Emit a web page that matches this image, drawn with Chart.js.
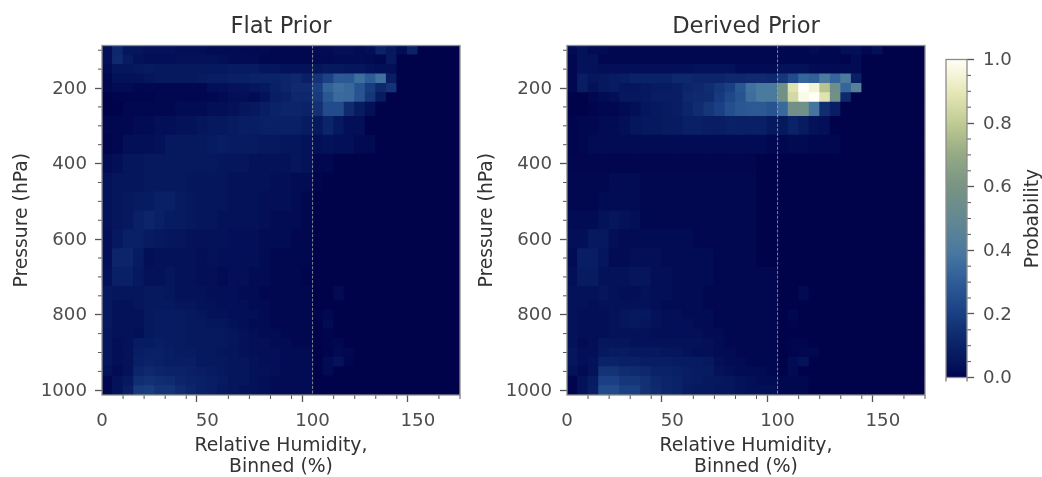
<!DOCTYPE html>
<html><head><meta charset="utf-8">
<style>html,body{margin:0;padding:0;background:#fff;width:1042px;height:477px;overflow:hidden}
canvas{position:absolute;top:0}</style>
<script src="https://cdn.jsdelivr.net/npm/chart.js@4"></script></head>
<body>
<canvas id="c1" style="left:0" ></canvas>
<canvas id="c2" style="left:465px"></canvas>
<canvas id="c3" style="left:930px"></canvas>
<script>
const rhEdges = [0,5,10,15,20,25,30,35,40,45,50,55,60,65,70,75,80,85,90,95,100,105,110,115,120,125,130,135,140,145,150,155,160,165,170];
const pressureEdges = [87.5,112.5,137.5,162.5,187.5,212.5,237.5,275,325,375,425,475,525,575,625,675,725,762.5,787.5,812.5,837.5,862.5,887.5,912.5,937.5,962.5,987.5,1012.5];
const xTicks = [0,10,20,30,40,50,60,70,80,90,100,110,120,130,140,150,160,170];
const yTicks = [100,150,200,250,300,350,400,450,500,550,600,650,700,750,800,850,900,950,1000];
const barTicks = [0,.05,.1,.15,.2,.25,.3,.35,.4,.45,.5,.55,.6,.65,.7,.75,.8,.85,.9,.95,1];
const refLine = 100;
// probability x 100, one row per pressure level, rows end where the values reach zero
const flatPrior = [
[3,12,5,5,4,4,4,3,3,3,2,2,2,1.5,1.5,1.5,1,1,1,1,2,2,3,3,2,3,10,6,2,10],
[3,13,7,4,3,3,3,4,4,4,4,3,2,2,2,1,1,1,1,1,1.5,1.5,2,2,2,1.5,1,6],
[2,5,5,6,7,6,6,6,6,6,6,6,7,7,7,5,5,4,4,4,5,6,6,5,5,4,3,3],
[1,4,4,4,5,6,6,6,6,7,8,8,9,9,10,10,10,11,12,9,16,21,29,29,36,30,37,8],
[1,2,2,1,1,1,1,1,1,1,3,3,4,4,5,6,9,11,13,13,20,32,36,34,27,19,12,16],
[0,0.5,0.5,0.5,0.5,1,1,1,1,1,1,2,3,3,2,4,8,9,12,12,18,28,35,34,27,17,7],
[0,0,1,1,1,1,1,2,2,2,3,3,4,5,6,8,10,11,11,10,15,24,24,13,7,3],
[1,1,1,2,2,3,3,4,4,5,6,6,7,8,8,9,9,9,9,7,6,11,6,3,3],
[0.5,1,3,3,3,4,6,6,6,6,7,8,7,7,7,6,6,5,5,4,3,4,3,3,1.5,1.5],
[2,3,5,5,6,6,6,6,6,6,6,5,5,5,4,4,4,4,5,4,1,1],
[4,5,5,5,6,6,6,6,5,5,5,5,4,4,4,4,3,3,2,2,0.5],
[4,5,6,7,7,9,9,7,6,5,5,5,4,4,4,3,3,3,2,1],
[4,5,6,9,11,9,7,7,6,5,5,4,4,4,4,3,2,2,2,1],
[3,6,9,9,7,6,5,5,4,4,4,4,3,3,3,2,2,2,1,1],
[3,11,11,7,3,4,4,4,4,3,4,3,3,3,3,2,1,1,1,1],
[4,9,9,6,4,4,5,4,4,3,3,2,3,3,2,2,1,1,1,0.5],
[6,5,5,5,6,6,5,4,4,4,3,3,3,2,2,1,1,1,1,1,0,0,1.5],
[6,4,4,5,6,6,6,5,5,4,4,3,3,3,2,2,1,1,1,1],
[6,4,4,4,6,7,7,7,6,5,4,4,3,3,3,2,1,1,1,1,0.5,1],
[6,4,4,4,6,7,7,7,6,6,5,5,4,3,2,2,1,1,1,1,0,1.5],
[5,4,4,3,6,7,7,7,6,6,6,6,5,4,3,2,2,1,1,1,0,0.5],
[5,3,4,7,7,8,7,7,6,6,6,6,5,4,3,3,2,2,1,1,0,0.5,1],
[5,3,4,8,9,9,8,7,7,6,6,5,5,4,3,3,3,2,2,2,0,0.5,1.5,1],
[5,3,4,9,10,9,8,8,8,6,6,6,5,5,4,3,3,2,2,2,0,2,4,0.5],
[4,2,4,11,12,11,10,10,9,8,7,6,5,5,4,4,3,2,2,2,0,1.5],
[1,4,6,14,15,14,13,11,10,9,8,7,5,5,4,3,2,2,2,2],
[1,4,8,18,19,16,16,13,11,9,8,6,5,4,4,3,2,2,2,2]];
const derivedPrior = [
[2,4,2,2,1,1,1,1,1,1,1,1,1,1,1,1,1,1,1,1,1,1,1,2,1,1,3,3,1,3],
[1,4,4,1,1,1,1,1,1,1,1,1,1,1,1,1,1,1,1,1,1,1,1,1,1,1,0.5,2],
[1,4,4,3,3,3,3,3,3,3,3,3,4,4,4,4,2,2,2,2,4,4,4,2,2,2,2,2],
[1,8,5,6,7,8,10,10,10,10,12,12,11,11,11,12,12,13,13,12,17,24,33,31,41,33,41,9],
[1,8,4,6,7,5,5,6,7,7,8,11,12,14,17,20,28,37,40,40,57,88,100,95,78,55,33,45],
[0,0,1,2,3,6,6,6,8,8,8,12,13,13,18,23,27,36,40,40,57,85,98,100,88,57,12],
[0,0,0.5,1,1,2,3,5,6,7,8,11,14,17,20,25,28,29,29,27,34,57,57,38,14,8],
[0.5,1,1,2,2,3,5,6,6,7,7,9,9,8,8,9,9,9,9,6,6,10,7,4,3],
[0.5,1,2,2,2,2,2,2,2,2,2,2,2,2,2,2,2,2,2,1,1,1.5,1.5,1,1,1],
[0.7,0.7,0.7,0.7,0.7,0.7,0.7,0.7,0.7,0.7,0.7,0.7,0.7,0.7,0.7,0.7,0.7,0.7],
[1,1,1,1,2,2,2,1,1,1,1,1,1,1,1,1,1,1],
[1,1,1,2,2,2,2,1,1,1,1,1,1,1,1,1,1,1],
[2,2,2,4,5,4,3,1,1,1,1,1,1,1,1,1,1,1],
[3,3,6,6,3,2,2,2,2,2,2,2,1,1,1,1,1,1],
[2,8,8,5,2,2,3,3,3,2,2,2,2,2,1,1,1,1],
[3,7,7,4,4,4,5,5,3,3,2,2,2,2,1,1,1,1,1,1],
[4,4,4,5,4,3,3,4,3,3,2,2,2,1,1,1,1,1,1,1,0,0,1.5],
[4,4,3,4,4,4,4,4,3,2,2,2,2,1,1,1,1,1,1,1],
[4,3,3,3,4,5,6,6,4,3,3,2,2,2,1,1,1,1,1,1,0,1],
[4,3,3,3,4,5,6,5,4,3,3,3,2,2,1,1,1,1,1,1,0,0.5],
[4,3,3,3,4,4,4,4,3,3,3,3,3,2,2,1,1,1,1,1],
[4,2,3,5,5,5,4,4,4,4,4,4,4,3,2,1,1,1,1,1,0,0.5,0.5],
[5,3,3,6,7,7,6,6,6,5,5,4,3,3,2,2,1,1,1,1,0,0.5,1,1],
[5,3,4,10,10,9,9,8,8,8,7,7,7,6,3,2,2,1,1,1,0,2,4],
[4,2,4,16,16,14,13,12,10,10,9,8,7,7,4,3,2,2,2,1,0,1.5],
[0.5,4,7,20,20,17,17,15,12,11,10,8,7,6,6,5,4,3,2,2,1,1,1],
[0.5,4,8,24,24,20,20,15,13,11,10,7,6,6,5,5,4,3,3,3,1,1,1]];
const cmapStops = [[0,'#00034a'],[.02,'#020c54'],[.05,'#05165c'],[.1,'#0a2268'],[.15,'#123072'],[.2,'#1a3f84'],[.3,'#2e5c96'],[.35,'#3b6b9e'],[.4,'#4b7a9f'],[.5,'#648891'],[.6,'#779484'],[.7,'#95a984'],[.8,'#c0cb93'],[.9,'#e7e8b8'],[1,'#fffff6']];

const hex = s => [1,3,5].map(i => parseInt(s.substr(i,2),16));
function cmap(v){
  v = Math.max(0,Math.min(1,v));
  for(let i=1;i<cmapStops.length;i++){
    if(v<=cmapStops[i][0]){
      const [a,ca]=cmapStops[i-1],[b,cb]=cmapStops[i],t=(v-a)/(b-a),A=hex(ca),B=hex(cb);
      return 'rgb('+A.map((c,j)=>Math.round(c+(B[j]-c)*t)).join(',')+')';
    }
  }
}
const FONT='"DejaVu Sans"';
const TICKC='#4d4d4d', LABC='#333333', SPINE='#8c8c8c', TICK='#555555';
const FS=18.8, TS=18.2;
const frameAndMinor = {
  id:'frameAndMinor',
  afterDraw(chart){
    const c=chart.ctx,a=chart.chartArea;
    c.save();
    c.strokeStyle=TICK;c.lineWidth=1;
    Object.values(chart.scales).forEach(s=>{
      s.ticks.forEach((t,i)=>{
        if(t.major)return;
        const p=s.getPixelForTick(i);c.beginPath();
        if(s.axis==='x'){c.moveTo(p,a.bottom);c.lineTo(p,a.bottom+4);}
        else if(s.position==='right'){c.moveTo(a.right,p);c.lineTo(a.right+4,p);}
        else{c.moveTo(a.left,p);c.lineTo(a.left-4,p);}
        c.stroke();
      });
    });
    c.strokeStyle=SPINE;c.lineWidth=1.3;
    c.strokeRect(a.left,a.top,a.right-a.left,a.bottom-a.top);
    c.restore();
  }
};
function panel(id,title,rows,leftPx,width){
  const el=document.getElementById(id);
  el.width=width;el.height=477;el.style.width=width+'px';el.style.height='477px';
  const cells=[],colors=[];
  rows.forEach((r,j)=>{
    for(let i=0;i<rhEdges.length-1;i++){
      const v=r[i]||0;
      cells.push({x:(rhEdges[i]+rhEdges[i+1])/2,y:[pressureEdges[j],pressureEdges[j+1]]});
      colors.push(cmap(v/100));
    }
  });
  new Chart(el,{
    type:'bar',
    data:{datasets:[
      {type:'line',label:'RH 100%',data:[{x:refLine,y:pressureEdges[0]},{x:refLine,y:pressureEdges[pressureEdges.length-1]}],
       borderColor:'#a6a6a6',borderWidth:0.8,borderDash:[3,1.6],pointRadius:0,order:0,parsing:false},
      {label:title,data:cells,backgroundColor:colors,borderWidth:0,barPercentage:1,categoryPercentage:1,inflateAmount:0.4,order:1}
    ]},
    options:{
      responsive:false,animation:false,
      layout:{padding:{left:0,right:width-leftPx-358,top:0,bottom:0}},
      plugins:{legend:{display:false},tooltip:{enabled:false},
        title:{display:true,fullSize:false,text:title,color:LABC,font:{family:FONT,size:22.6,weight:'normal',lineHeight:1.2},padding:{top:14,bottom:4.4}}},
      scales:{
        x:{type:'linear',min:0,max:170,offset:false,
          afterBuildTicks:s=>{s.ticks=xTicks.map(v=>({value:v,major:v%50===0}));},
          afterFit:s=>{s.height=82;},
          grid:{drawOnChartArea:false,tickLength:7,tickWidth:1.3,tickColor:c=>c.tick&&c.tick.major?TICK:'rgba(0,0,0,0)'},
          border:{display:false},
          ticks:{autoSkip:false,maxRotation:0,padding:8,color:TICKC,font:{family:FONT,size:TS},callback:v=>v%50===0?String(v):''},
          title:{display:true,text:['Relative Humidity,','Binned (%)'],color:LABC,font:{family:FONT,size:FS,lineHeight:1.1},padding:{top:4,bottom:0}}},
        y:{type:'linear',reverse:true,min:pressureEdges[0],max:pressureEdges[pressureEdges.length-1],
          afterBuildTicks:s=>{s.ticks=yTicks.map(v=>({value:v,major:v%200===0}));},
          afterFit:s=>{s.width=leftPx;},
          grid:{drawOnChartArea:false,tickLength:7,tickWidth:1.3,tickColor:c=>c.tick&&c.tick.major?TICK:'rgba(0,0,0,0)'},
          border:{display:false},
          ticks:{autoSkip:false,padding:8,labelOffset:1,color:TICKC,font:{family:FONT,size:TS},callback:v=>v%200===0?String(v):''},
          title:{display:true,text:'Pressure (hPa)',color:LABC,font:{family:FONT,size:FS,lineHeight:1.2},padding:{top:11,bottom:0}}}
      }
    },
    plugins:[frameAndMinor]
  });
}
panel('c1','Flat Prior',flatPrior,102,480);
panel('c2','Derived Prior',derivedPrior,102,480);

// colour bar: an axis-only chart, its plot area painted with the colour map
const barEl=document.getElementById('c3');
barEl.width=112;barEl.height=477;barEl.style.width='112px';barEl.style.height='477px';
new Chart(barEl,{
  type:'scatter',
  data:{datasets:[{label:'Probability',data:[]}]},
  options:{responsive:false,animation:false,
    layout:{padding:{left:16,right:0,top:59.5,bottom:99.5}},
    plugins:{legend:{display:false},tooltip:{enabled:false},title:{display:false}},
    scales:{
      x:{display:false,min:0,max:1},
      y:{type:'linear',position:'right',min:0,max:1,
        afterBuildTicks:s=>{s.ticks=barTicks.map(v=>({value:v,major:Math.round(v*100)%20===0}));},
        afterFit:s=>{s.width=75;},
        grid:{drawOnChartArea:false,tickLength:7,tickWidth:1.3,tickColor:c=>c.tick&&c.tick.major?TICK:'rgba(0,0,0,0)'},
        border:{display:false},
        ticks:{autoSkip:false,padding:9,labelOffset:1,color:TICKC,font:{family:FONT,size:TS},callback:v=>Math.round(v*100)%20===0?v.toFixed(1):''},
        title:{display:false}}
    }
  },
  plugins:[{id:'gradient',beforeDraw(chart){
    const a=chart.chartArea,c=chart.ctx,s=chart.scales.y;
    const g=c.createLinearGradient(0,s.getPixelForValue(0),0,s.getPixelForValue(1));
    cmapStops.forEach(([p,col])=>g.addColorStop(p,col));
    c.fillStyle=g;c.fillRect(a.left,a.top,a.right-a.left,a.bottom-a.top);
    c.save();c.translate(103,(a.top+a.bottom)/2);c.rotate(-Math.PI/2);
    c.fillStyle=LABC;c.font=FS+'px '+FONT;c.textAlign='center';c.textBaseline='middle';
    c.fillText('Probability',0,0);c.restore();
  }},frameAndMinor]
});
</script>
</body></html>
